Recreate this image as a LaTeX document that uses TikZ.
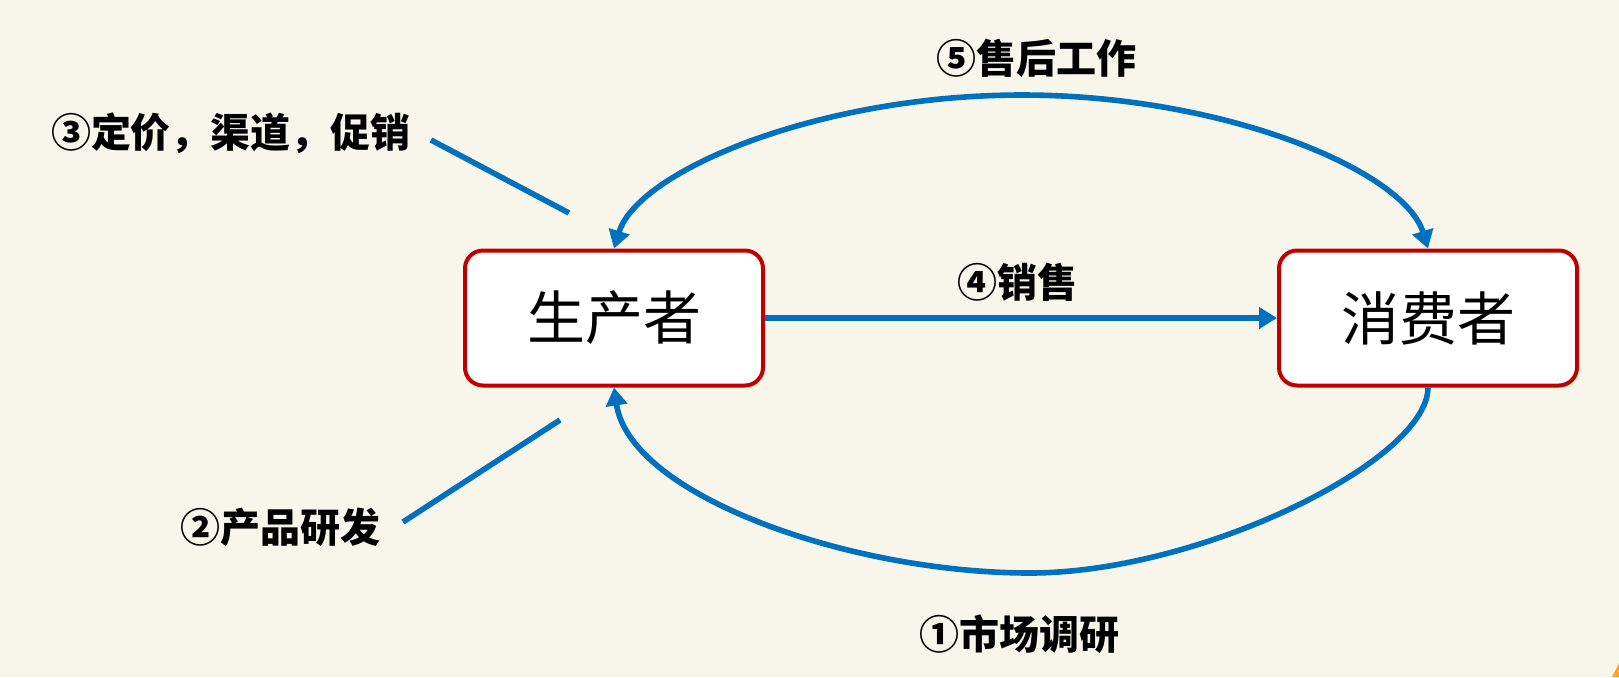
\documentclass[tikz,border=0pt]{standalone}
\usepackage{fontspec}
\newfontfamily\cjk{Noto Sans CJK SC}
\usetikzlibrary{arrows.meta,positioning}
\definecolor{bgC}{HTML}{F8F6EA}
\definecolor{lnB}{HTML}{0070C0}
\definecolor{bxR}{HTML}{C00000}
\definecolor{cnO}{HTML}{F7A535}

\begin{document}
\begin{tikzpicture}[x=0.5pt,y=-0.5pt,
  >={Triangle[length=9pt,width=10.5pt]},
  box/.style={draw=bxR,line width=2pt,rounded corners=9pt,fill=white,minimum width=149pt,minimum height=67.5pt,inner sep=0pt,font=\cjk\fontsize{29}{34}\selectfont},
  lbl/.style={inner sep=0pt,font=\cjk\bfseries\fontsize{20}{24}\selectfont},
  ln/.style={draw=lnB,line width=2.8pt},
  ar/.style={ln,->}]
\fill[bgC] (0,0) rectangle (1619,677);
\useasboundingbox (0,0) rectangle (1619,677);
\fill[cnO] (1612,677) -- (1619,663) -- (1619,677) -- cycle;
% the two parties
\node[box] (prod) at (614,318) {生产者};
\node[box] (cons) at (1428,318) {消费者};
\coordinate (topmid) at (1022,95);
\coordinate (botmid) at (1030,573);
\coordinate (p3a) at (431,140);
\coordinate (p3b) at (569,213);
\coordinate (p2a) at (403,522);
\coordinate (p2b) at (560,420);
% labels
\node[lbl] (lab1) at (1019,634) {①市场调研};
\node[lbl] (lab2) at (280,527) {②产品研发};
\node[lbl] (lab3) at (231,133) {③定价，渠道，促销};
\node[lbl] (lab4) at (1017,282) {④销售};
\node[lbl] (lab5) at (1036,58) {⑤售后工作};
% links
\draw[ar] (prod) -- (cons);
\draw[ln,<->] (prod.north) .. controls +(24,-78) and +(-202,0) .. (topmid)
  .. controls +(202,0) and +(-24,-78) .. (cons.north);
\draw[ar] (cons.south) .. controls +(0,73) and +(170,0) .. (botmid)
  .. controls +(-180,0) and +(16,108) .. (prod.south);
\draw[ln] (p3a) -- (p3b);
\draw[ln] (p2a) -- (p2b);
\end{tikzpicture}
\end{document}
